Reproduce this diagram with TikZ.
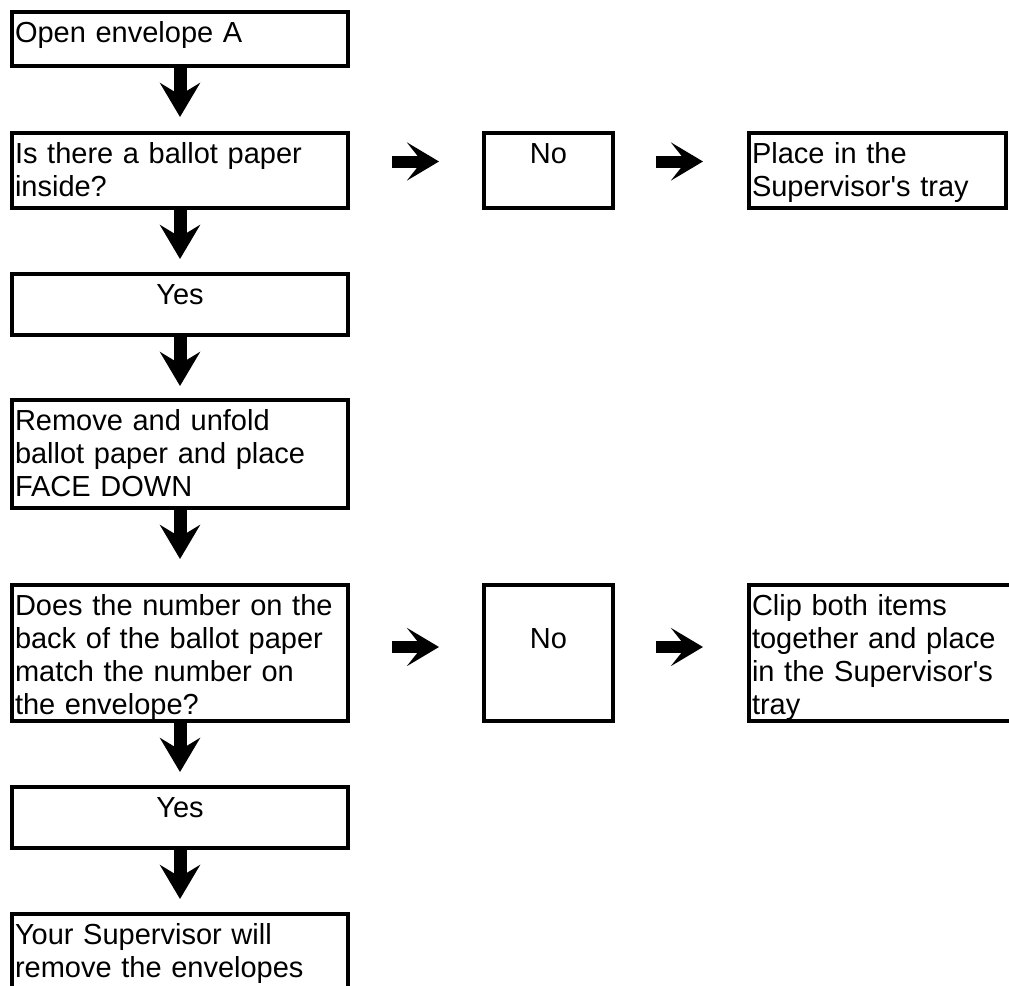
\documentclass[tikz,border=0pt]{standalone}
\usepackage{fontspec}
\setmainfont{Liberation Sans}[Ligatures=TeXOff]
\usetikzlibrary{arrows.meta}

\begin{document}
\begin{tikzpicture}[x=1pt,y=-1pt,
      box/.style={draw,line width=4pt,anchor=north west,inner xsep=3pt,
        inner ysep=0pt,text height=30pt,align=left,
        font=\fontsize{29}{33}\selectfont},
      down/.style={line width=13pt,-{Stealth[length=34pt,width=40pt,inset=12pt]}},
      right/.style={line width=12pt,-{Stealth[length=32pt,width=38pt,inset=15pt]}}]
      \path[use as bounding box,clip] (0,0) rectangle (1009,985);

      % left column
      \node[box,text width=330pt,text depth=24pt] (open) at (10,10) {Open envelope A};
      \node[box,text width=330pt,text depth=45pt] (inside) at (10,131)
        {Is there a ballot paper\\inside?};
      \node[box,text width=330pt,text depth=31pt,align=center] (yesA) at (10,272) {Yes};
      \node[box,text width=330pt,text depth=78pt] (unfold) at (10,398)
        {Remove and unfold\\ballot paper and place\\FACE DOWN};
      \node[box,text width=330pt,text depth=106pt] (match) at (10,583)
        {Does the number on the\\back of the ballot paper\\match the number on\\the envelope?};
      \node[box,text width=330pt,text depth=31pt,align=center] (yesB) at (10,785) {Yes};
      \node[box,text width=330pt,text depth=110pt] (remove) at (10,912)
        {Your Supervisor will\\remove the envelopes};

      % right column
      \node[box,text width=123pt,text depth=45pt,align=center] (noA) at (482,131) {No};
      \node[box,text width=251pt,text depth=45pt] (trayA) at (747,131)
        {Place in the\\Supervisor's tray};
      \node[box,text width=123pt,text depth=106pt,align=center] (noB) at (482,583) {~\\No};
      \node[box,text width=300pt,text depth=106pt] (trayB) at (747,583)
        {Clip both items\\together and place\\in the Supervisor's\\tray};

      \draw[down,shorten >=14pt] (open.south) -- (inside.north);
      \draw[down,shorten >=13pt] (inside.south) -- (yesA.north);
      \draw[down,shorten >=12pt] (yesA.south) -- (unfold.north);
      \draw[down,shorten >=24pt] (unfold.south) -- (match.north);
      \draw[down,shorten >=13pt] (match.south) -- (yesB.north);
      \draw[down,shorten >=13pt] (yesB.south) -- (remove.north);

      \draw[right,shorten <=42pt,shorten >=43pt] ([yshift=9pt]inside.east) -- ([yshift=9pt]noA.west);
      \draw[right,shorten <=41pt,shorten >=44pt] ([yshift=9pt]noA.east) -- ([yshift=9pt]trayA.west);
      \draw[right,shorten <=42pt,shorten >=43pt] ([yshift=6pt]match.east) -- ([yshift=6pt]noB.west);
      \draw[right,shorten <=41pt,shorten >=44pt] ([yshift=6pt]noB.east) -- ([yshift=6pt]trayB.west);
\end{tikzpicture}
\end{document}
